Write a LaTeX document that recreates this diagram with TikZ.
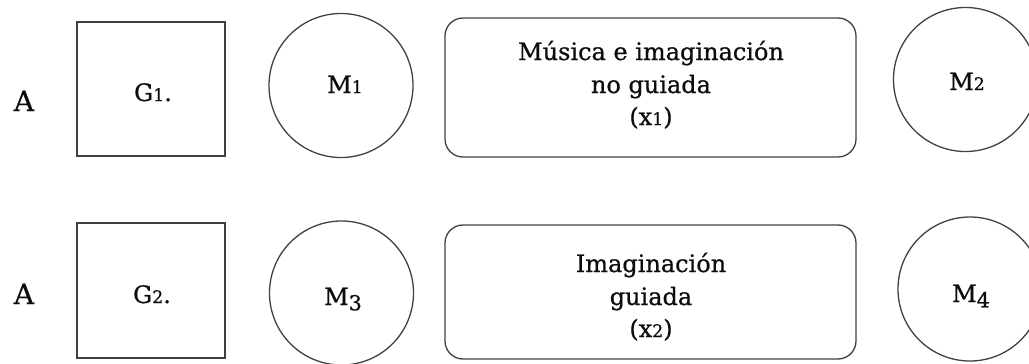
\documentclass[tikz,border=0pt]{standalone}
\usepackage{fontspec}
\setmainfont{DejaVu Serif}[FakeBold=0.7]
\newcommand\ofsmall[1]{\scalebox{0.72}{#1}}
\newcommand\oflow[1]{\raisebox{-0.22em}{\scalebox{0.86}{#1}}}
\begin{document}
\begin{tikzpicture}[x=1pt,y=-1pt,
  shapeline/.style={draw=black!75,line width=1.3pt,inner sep=0pt,outer sep=0pt},
  sqbox/.style={shapeline,rectangle,minimum width=148pt},
  circ/.style={shapeline,circle,minimum size=144pt},
  rbox/.style={shapeline,rectangle,rounded corners=18pt,minimum width=411pt},
  txt/.style={anchor=base,inner sep=0pt,text=black!95,font=\fontsize{24}{32}\selectfont},
  bigtxt/.style={anchor=base,inner sep=0pt,text=black!95,font=\fontsize{28}{34}\selectfont}]
\useasboundingbox (0,0) rectangle (1029,364);
% row 1
\node[bigtxt] (a1) at (24,111) {A};
\node[sqbox,minimum height=134pt] (g1) at (151,89) {};
\node[txt] (g1t) at (153,101) {G\ofsmall{1}.};
\node[circ] (m1) at (341,85.5) {};
\node[txt] (m1t) at (345,93) {M\ofsmall{1}};
\node[rbox,minimum height=139pt] (b1) at (650.5,87.5) {};
\node[txt] (b1a) at (651,60) {Música e imaginación};
\node[txt] (b1b) at (651,93) {no guiada};
\node[txt] (b1c) at (651,125) {(x\ofsmall{1})};
\node[circ] (m2) at (965.5,79.5) {};
\node[txt] (m2t) at (967,90) {M\ofsmall{2}};
% row 2
\node[bigtxt] (a2) at (24,304) {A};
\node[sqbox,minimum height=135pt] (g2) at (151,290.5) {};
\node[txt] (g2t) at (152,303) {G\ofsmall{2}.};
\node[circ] (m3) at (341.5,293) {};
\node[txt] (m3t) at (343,305) {M\oflow{3}};
\node[rbox,minimum height=134pt] (b2) at (650.5,292) {};
\node[txt] (b2a) at (651,272) {Imaginación};
\node[txt] (b2b) at (651,305) {guiada};
\node[txt] (b2c) at (651,337) {(x\ofsmall{2})};
\node[circ] (m4) at (970,289) {};
\node[txt] (m4t) at (971,302) {M\oflow{4}};
\end{tikzpicture}
\end{document}
